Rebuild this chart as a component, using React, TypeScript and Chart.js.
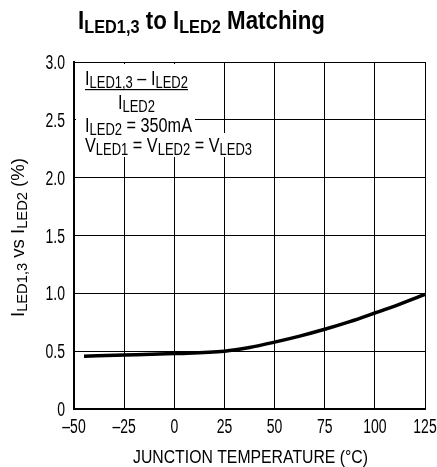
import React, { useEffect, useRef } from "react";
import { Chart, registerables } from "chart.js";

Chart.register(...registerables);

const temps = [-45, -25, 0, 25, 37.5, 50, 62.5, 75, 87.5, 100, 112.5, 125];
const matching = [0.457, 0.466, 0.479, 0.5, 0.532, 0.578, 0.63, 0.689, 0.755, 0.83, 0.907, 0.99];
const xTicks = [-50, -25, 0, 25, 50, 75, 100, 125];
const yTicks = [0, 0.5, 1.0, 1.5, 2.0, 2.5, 3.0];

const FONT = "'Liberation Sans', Arial, 'Noto Sans', sans-serif";

type Part = { t: string; sub?: boolean };

function measureRich(ctx: CanvasRenderingContext2D, parts: Part[], size: number, subSize: number, weight: string) {
  let total = 0;
  ctx.save();
  for (const p of parts) {
    ctx.font = `${weight} ${p.sub ? subSize : size}px ${FONT}`;
    total += ctx.measureText(p.t).width;
  }
  ctx.restore();
  return total;
}

function drawRich(
  ctx: CanvasRenderingContext2D,
  parts: Part[],
  x: number,
  y: number,
  align: "left" | "center" | "right",
  size: number,
  subSize: number,
  subOff: number,
  sx: number,
  weight = "normal"
) {
  const natural = measureRich(ctx, parts, size, subSize, weight);
  const total = natural * sx;
  const start = align === "center" ? x - total / 2 : align === "right" ? x - total : x;
  ctx.save();
  ctx.textBaseline = "alphabetic";
  ctx.textAlign = "left";
  ctx.translate(start, y);
  ctx.scale(sx, 1);
  let cx = 0;
  for (const p of parts) {
    ctx.font = `${weight} ${p.sub ? subSize : size}px ${FONT}`;
    ctx.fillText(p.t, cx, p.sub ? subOff : 0);
    cx += ctx.measureText(p.t).width;
  }
  ctx.restore();
  return total;
}

function fitScale(ctx: CanvasRenderingContext2D, parts: Part[], size: number, subSize: number, target: number, weight = "normal") {
  return target / measureRich(ctx, parts, size, subSize, weight);
}

const TICK_SX = 0.7;
const TICK_SIZE = 20;

const textPlugin = {
  id: "textPlugin",
  afterDraw(chart: any) {
    const ctx: CanvasRenderingContext2D = chart.ctx;
    const area = chart.chartArea;
    ctx.save();
    ctx.fillStyle = "#000";
    // Title
    const title: Part[] = [{ t: "I" }, { t: "LED1,3", sub: true }, { t: " to I" }, { t: "LED2", sub: true }, { t: " Matching" }];
    drawRich(ctx, title, 78, 28.5, "left", 26, 19, 4, fitScale(ctx, title, 26, 19, 247, "bold"), "bold");

    // tick labels via scales
    const xs = chart.scales.x;
    const ys = chart.scales.y;
    for (const t of xs.ticks) {
      const v = t.value;
      const label = v < 0 ? "–" + Math.abs(v) : String(v);
      drawRich(ctx, [{ t: label }], xs.getPixelForValue(v), 433, "center", TICK_SIZE, 14, 3, TICK_SX);
    }
    for (const t of ys.ticks) {
      const v = t.value;
      const label = v === 0 ? "0" : Number(v).toFixed(1);
      drawRich(ctx, [{ t: label }], area.left - 9, ys.getPixelForValue(v) + 7, "right", TICK_SIZE, 14, 3, TICK_SX);
    }

    // annotation box background
    ctx.fillStyle = "#fff";
    ctx.fillRect(area.left + 2, area.top + 2, 195 - area.left - 2, 133 - area.top - 2);
    ctx.fillRect(area.left + 2, 133, 254 - area.left - 2, 24);
    ctx.fillStyle = "#000";
    const l4: Part[] = [{ t: "V" }, { t: "LED1", sub: true }, { t: " = V" }, { t: "LED2", sub: true }, { t: " = V" }, { t: "LED3", sub: true }];
    const asx = fitScale(ctx, l4, 20, 16, 167);
    const w1 = drawRich(
      ctx,
      [{ t: "I" }, { t: "LED1,3", sub: true }, { t: " – I" }, { t: "LED2", sub: true }],
      85,
      84.5,
      "left",
      20,
      16,
      3,
      asx
    );
    ctx.fillRect(85, 89, w1, 1.2);
    drawRich(ctx, [{ t: "I" }, { t: "LED2", sub: true }], 85 + w1 / 2, 108.5, "center", 20, 16, 3, asx);
    drawRich(ctx, [{ t: "I" }, { t: "LED2", sub: true }, { t: " = 350mA" }], 85, 132, "left", 20, 16, 3, asx);
    drawRich(ctx, l4, 85, 151.5, "left", 20, 16, 3, asx);

    // x axis title
    const xt: Part[] = [{ t: "JUNCTION TEMPERATURE (°C)" }];
    drawRich(ctx, xt, 250.5, 463, "center", 18, 14, 3, fitScale(ctx, xt, 18, 14, 235));

    // y axis title
    const yt: Part[] = [{ t: "I" }, { t: "LED1,3", sub: true }, { t: " vs I" }, { t: "LED2", sub: true }, { t: " (%)" }];
    ctx.save();
    ctx.translate(23.5, 237.5);
    ctx.rotate(-Math.PI / 2);
    drawRich(ctx, yt, 0, 0, "center", 19, 15, 3, fitScale(ctx, yt, 19, 15, 159));
    ctx.restore();
    ctx.restore();
  },
};

export default function App() {
  const ref = useRef<HTMLCanvasElement | null>(null);
  useEffect(() => {
    document.body.style.margin = "0";
    const canvas = ref.current;
    if (!canvas) return;
    const chart = new Chart(canvas, {
      type: "line",
      data: {
        datasets: [
          {
            data: temps.map((t, i) => ({ x: t, y: matching[i] })),
            borderColor: "#000",
            borderWidth: 3.5,
            pointRadius: 0,
            fill: false,
            cubicInterpolationMode: "monotone",
          },
        ],
      },
      options: {
        responsive: false,
        animation: false,
        devicePixelRatio: 1,
        layout: { padding: { top: 62, right: 12, left: 0, bottom: 0 } },
        plugins: { legend: { display: false }, tooltip: { enabled: false }, title: { display: false } },
        scales: {
          x: {
            type: "linear",
            min: -50,
            max: 125,
            afterBuildTicks: (s: any) => {
              s.ticks = xTicks.map((v) => ({ value: v }));
            },
            afterFit: (s: any) => {
              s.height = 58;
              s.paddingLeft = 0;
              s.paddingRight = 0;
            },
            grid: { color: "#000", lineWidth: 1, drawTicks: false },
            border: { display: true, color: "#000", width: 2 },
            ticks: { display: false },
          },
          y: {
            type: "linear",
            min: 0,
            max: 3,
            afterBuildTicks: (s: any) => {
              s.ticks = yTicks.map((v) => ({ value: v }));
            },
            afterFit: (s: any) => {
              s.width = 74;
            },
            grid: { color: "#000", lineWidth: 1, drawTicks: false },
            border: { display: true, color: "#000", width: 2 },
            ticks: { display: false },
          },
        },
      },
      plugins: [textPlugin],
    } as any);
    return () => chart.destroy();
  }, []);
  return (
    <div style={{ position: "fixed", left: 0, top: 0, width: 437, height: 467, background: "#fff" }}>
      <canvas ref={ref} width={437} height={467} />
    </div>
  );
}
